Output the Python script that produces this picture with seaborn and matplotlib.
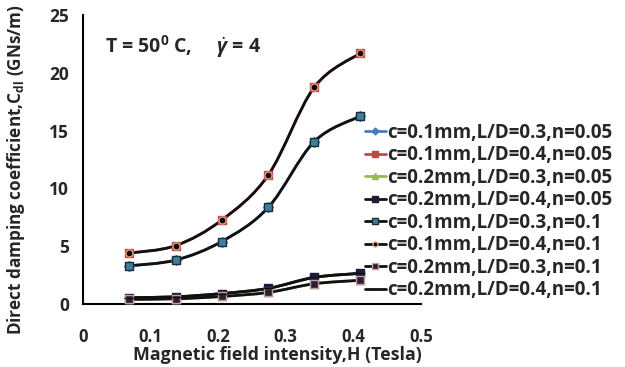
import numpy as np
import pandas as pd
import matplotlib
matplotlib.use("Agg")
import matplotlib.pyplot as plt
from matplotlib.path import Path
from matplotlib.patches import PathPatch
from matplotlib.lines import Line2D
import seaborn as sns

# ---- data ----
H = [0.068, 0.137, 0.205, 0.274, 0.342, 0.410]
labels = [
    "c=0.1mm,L/D=0.3,n=0.05",
    "c=0.1mm,L/D=0.4,n=0.05",
    "c=0.2mm,L/D=0.3,n=0.05",
    "c=0.2mm,L/D=0.4,n=0.05",
    "c=0.1mm,L/D=0.3,n=0.1",
    "c=0.1mm,L/D=0.4,n=0.1",
    "c=0.2mm,L/D=0.3,n=0.1",
    "c=0.2mm,L/D=0.4,n=0.1",
]
s1 = [3.30, 3.80, 5.40, 8.35, 14.05, 16.25]
s2 = [4.40, 5.05, 7.25, 11.15, 18.75, 21.70]
s3 = [0.40, 0.45, 0.65, 1.00, 1.75, 2.05]
s4 = [0.55, 0.62, 0.90, 1.35, 2.30, 2.65]
s5 = [3.30, 3.80, 5.40, 8.35, 14.05, 16.25]
s6 = [4.40, 5.05, 7.25, 11.15, 18.75, 21.70]
s7 = [0.40, 0.45, 0.65, 1.00, 1.75, 2.05]
s8 = [0.55, 0.62, 0.90, 1.35, 2.30, 2.65]
series = [s1, s2, s3, s4, s5, s6, s7, s8]
xticks = [0, 0.1, 0.2, 0.3, 0.4, 0.5]
yticks = [0, 5, 10, 15, 20, 25]

# ---- styles ----
line_colors = ["#4a7ebb", "#be4b48", "#98b954", "#111111",
               "#111111", "#111111", "#111111", "#111111"]
markers = ["D", "s", "^", "s", "s", "o", "s", "_"]
mface = ["#4a7ebb", "#be4b48", "#98b954", "#1c1c3a",
         "#3f7f98", "#000000", "#2a2030", "#111111"]
medge = ["#4a7ebb", "#be4b48", "#98b954", "#1c1c3a",
         "#1c2c3a", "#e39a78", "#c49aa8", "#111111"]
msize = [5, 6, 6, 6, 6, 5, 6, 7]

sns.set_style("white")
FONT = "Open Sans"
plt.rcParams["font.family"] = [FONT, "DejaVu Sans"]
plt.rcParams["font.weight"] = "bold"
plt.rcParams["mathtext.fontset"] = "custom"
plt.rcParams["mathtext.rm"] = FONT + ":bold"
plt.rcParams["mathtext.it"] = FONT + ":bold:italic"
plt.rcParams["mathtext.bf"] = FONT + ":bold"

fig = plt.figure(figsize=(6.25, 3.67), dpi=100)
ax = fig.add_axes([0.1328, 0.1717, 0.6736 - 0.1328, 0.959 - 0.1717])


def smooth_path(x, y, t=1.0 / 6.0):
    x = np.asarray(x, float)
    y = np.asarray(y, float)
    pts = np.column_stack([x, y])
    n = len(pts)
    verts = [pts[0]]
    codes = [Path.MOVETO]
    for i in range(n - 1):
        p0 = pts[i - 1] if i > 0 else pts[i]
        p1 = pts[i]
        p2 = pts[i + 1]
        p3 = pts[i + 2] if i + 2 < n else pts[i + 1]
        c1 = p1 + (p2 - p0) * t
        c2 = p2 - (p3 - p1) * t
        verts += [c1, c2, p2]
        codes += [Path.CURVE4] * 3
    return Path(verts, codes)


handles = []
for i, (lab, ys) in enumerate(zip(labels, series)):
    patch = PathPatch(smooth_path(H, ys), facecolor="none",
                      edgecolor=line_colors[i], lw=2.0, zorder=2 + i * 0.1,
                      transform=ax.transData)
    ax.add_patch(patch)
    df = pd.DataFrame({"H": H, "C": ys})
    sns.scatterplot(data=df, x="H", y="C", ax=ax, marker=markers[i],
                    s=msize[i] ** 2, color=mface[i], edgecolor=medge[i],
                    linewidth=1.0, zorder=4 + i * 0.1, legend=False)
    handles.append(Line2D([], [], color=line_colors[i], lw=2.0,
                          marker=markers[i], markersize=msize[i] - 1.5,
                          markerfacecolor=mface[i], markeredgecolor=medge[i]))

ax.set_xlim(0, 0.5)
ax.set_ylim(0, 25)
ax.set_xticks(xticks)
ax.set_xticklabels(["0", "0.1", "0.2", "0.3", "0.4", "0.5"])
ax.set_yticks(yticks)
ax.set_yticklabels([str(v) for v in yticks])
for s in ["top", "right"]:
    ax.spines[s].set_visible(False)
for s in ["left", "bottom"]:
    ax.spines[s].set_color("#000000")
    ax.spines[s].set_linewidth(1.5)
ax.tick_params(axis="x", direction="out", length=5, width=1.5, pad=12,
               labelsize=12)
ax.tick_params(axis="y", direction="out", length=5, width=1.5, pad=5,
               labelsize=12.5)
for t in ax.get_xticklabels() + ax.get_yticklabels():
    t.set_fontweight("bold")
ax.set_xlabel("Magnetic field intensity,H (Tesla)", fontsize=12.8,
              fontweight="bold", va="center")
ax.xaxis.set_label_coords(0.574, -0.178)
ax.set_ylabel("Direct damping coefficient,C$_{\\mathrm{dl}}$ (GNs/m)",
              fontsize=12.3, fontweight="bold", va="center")
ax.yaxis.set_label_coords(-0.198, 0.464)
ax.text(0.065, 0.89, "T = 50$^0$ C,     $\\dot{\\gamma}$ = 4",
        transform=ax.transAxes, fontsize=14, fontweight="bold",
        ha="left", va="center")

fig.legend(handles, labels, loc="upper left",
           bbox_to_anchor=(365 / 625, 1 - 123 / 367), frameon=False,
           prop={"size": 13.5, "weight": "bold"}, handlelength=1.1,
           handletextpad=0.1, labelspacing=0.13, borderaxespad=0,
           borderpad=0)

fig.savefig("out.png", dpi=100)
